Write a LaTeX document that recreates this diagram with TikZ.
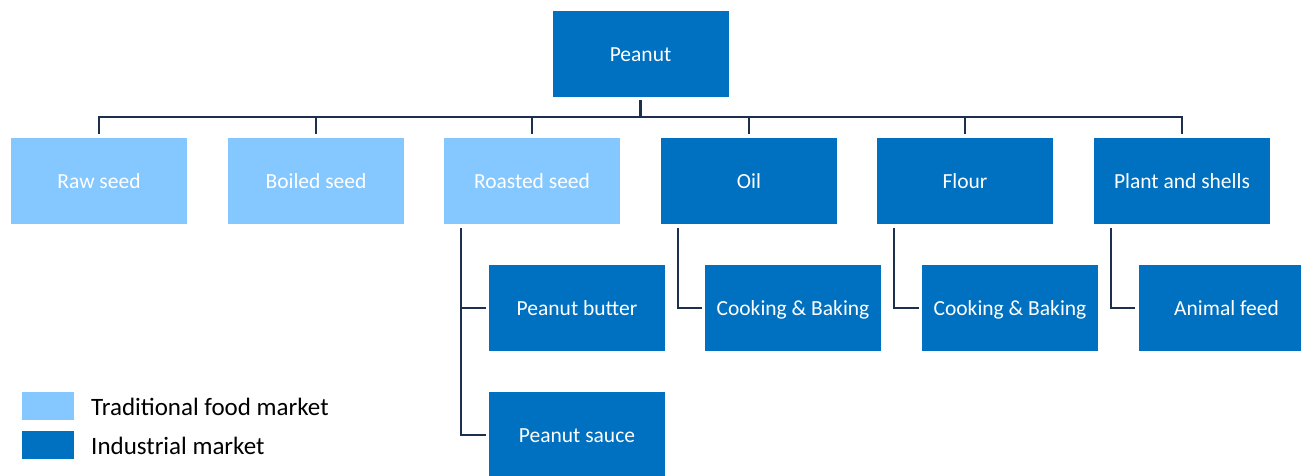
\documentclass[tikz,border=0pt]{standalone}
\usepackage{fontspec}
\setmainfont{Carlito}
\usetikzlibrary{calc}
\definecolor{tradblue}{HTML}{85C8FF}
\definecolor{indblue}{HTML}{0070C0}
\definecolor{linenavy}{HTML}{1C2F4D}
\tikzset{
  box/.style={minimum width=176pt, minimum height=86pt, inner sep=0pt,
    text=white, font=\fontsize{21.5}{24}\selectfont,
    text height=15pt, text depth=0pt},
  trad/.style={box, fill=tradblue},
  ind/.style={box, fill=indblue},
  conn/.style={draw=linenavy, line width=2.4pt},
  legendbox/.style={minimum width=52pt, minimum height=28pt, inner sep=0pt},
  legendtext/.style={anchor=west, inner sep=0pt, text=black,
    font=\fontsize{25}{27}\selectfont, text height=0.68em, text depth=0.2em}
}
\begin{document}
\begin{tikzpicture}[x=1pt, y=-1pt]
\useasboundingbox (0,0) rectangle (1301,475);
\begin{scope}
\clip (0,0) rectangle (1301,475);

% root
\node[ind] (peanut) at (640.5,54) {Peanut};

% first level
\node[trad] (raw)     at (99,181)   {Raw seed};
\node[trad] (boiled)  at (316,181)  {Boiled seed};
\node[trad] (roasted) at (532,181)  {Roasted seed};
\node[ind]  (oil)     at (749,181)  {Oil};
\node[ind]  (flour)   at (965,181)  {Flour};
\node[ind]  (plant)   at (1182,181) {Plant and shells};

% second level
\node[ind] (butter)  at (577,308)    {Peanut butter};
\node[ind] (sauce)   at (577,435)    {Peanut sauce};
\node[ind] (cookoil) at (793,308)    {Cooking \& Baking};
\node[ind] (cookfl)  at (1010,308)   {Cooking \& Baking};
\node[ind] (feed)    at (1226.5,308) {Animal feed};

% bus between root and first level
\coordinate (bus) at (640.5,117);
\draw[conn, shorten <=3pt] (peanut.south) -- (bus);
\draw[conn, shorten <=4pt, shorten >=4pt] (raw.north) |- (bus) -| (plant.north);
\foreach \n in {boiled, roasted, oil, flour}
  \draw[conn, shorten >=4pt] (\n.north |- bus) -- (\n.north);

% elbows down to second level
\coordinate (rs) at (461,224);
\coordinate (os) at (678,224);
\coordinate (fs) at (894,224);
\coordinate (ps) at (1111,224);
\draw[conn, shorten <=4pt, shorten >=3pt] (rs) |- (sauce.west);
\draw[conn, shorten >=3pt] (rs |- butter.west) -- (butter.west);
\draw[conn, shorten <=4pt, shorten >=3pt] (os) |- (cookoil.west);
\draw[conn, shorten <=4pt, shorten >=3pt] (fs) |- (cookfl.west);
\draw[conn, shorten <=4pt, shorten >=3pt] (ps) |- (feed.west);
\end{scope}

% legend
\node[legendbox, fill=tradblue] (ltrad) at (48,406) {};
\node[legendbox, fill=indblue]  (lind)  at (48,445) {};
\node[legendtext] (ltradt) at (91,413) {Traditional food market};
\node[legendtext] (lindt)  at (91,452) {Industrial market};
\end{tikzpicture}
\end{document}
